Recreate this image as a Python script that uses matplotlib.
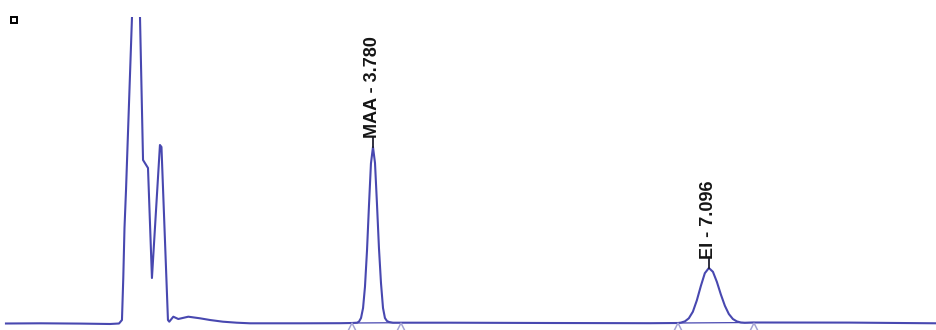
import numpy as np
import matplotlib
matplotlib.use("Agg")
import matplotlib.pyplot as plt

# detector trace, retention time in minutes / signal in arbitrary units
lead_t = [0.157, 0.500, 0.900, 1.184, 1.273]
lead_y = [-0.5, -0.3, -0.6, -1.0, -0.5]

void_t = [1.302, 1.315, 1.327, 1.342, 1.401, 1.450, 1.480, 1.510, 1.559, 1.598,
          1.677, 1.692, 1.756, 1.769, 1.809, 1.858, 1.957, 2.072,
          2.171, 2.299, 2.435, 2.566, 3.060, 3.454, 3.573, 3.603]
void_y = [3.0, 45.0, 95.0, 133.0, 306.0, 450.0, 306.0, 163.0, 155.0, 45.0,
          178.0, 176.0, 3.0, 1.3, 6.3, 4.0, 6.3, 4.7,
          3.0, 1.3, 0.3, -0.3, -0.3, -0.2, 0.0, 0.2]

maa_t = [3.623, 3.642, 3.662, 3.682, 3.701, 3.721, 3.741, 3.760, 3.780,
         3.800, 3.819, 3.839, 3.859, 3.879, 3.898, 3.918, 3.938, 3.977]
maa_y = [0.3, 1.4, 5.0, 14.9, 36.2, 72.4, 118.6, 159.5, 176.0,
         160.0, 120.0, 75.0, 40.0, 15.0, 5.0, 2.0, 1.0, 0.3]

mid_t = [4.057, 4.540, 5.527, 6.515, 6.791]
mid_y = [0.3, 0.3, 0.0, -0.2, 0.0]

ei_t = [6.820, 6.859, 6.898, 6.938, 6.977, 7.017, 7.056, 7.096,
        7.136, 7.175, 7.214, 7.254, 7.293, 7.333, 7.372, 7.412, 7.451]
ei_y = [0.4, 1.6, 4.7, 11.3, 22.6, 37.1, 49.8, 55.0,
        51.2, 41.1, 28.6, 17.2, 9.0, 4.0, 1.6, 0.5, 0.2]

tail_t = [7.541, 8.489, 9.348]
tail_y = [0.5, 0.4, -0.3]

# integrated peaks
peak_names = ["MAA", "EI"]
peak_rt = [3.780, 7.096]
peak_start = [3.573, 6.791]
peak_end = [4.057, 7.541]

time = np.array(lead_t + void_t + maa_t + mid_t + ei_t + tail_t)
signal = np.array(lead_y + void_y + maa_y + mid_y + ei_y + tail_y)

trace_color = "#4848b0"
marker_color = "#a4a4d4"

fig = plt.figure(figsize=(9.37, 3.30), dpi=100)
ax = fig.add_axes([0, 0, 1, 313 / 330])
ax.set_xlim(0.098, 9.348)
ax.set_ylim(-7, 306)
ax.axis("off")

ax.plot(time, signal, color=trace_color, lw=1.5, solid_joinstyle="round")

for name, rt, t0, t1 in zip(peak_names, peak_rt, peak_start, peak_end):
    y0 = np.interp(t0, time, signal)
    y1 = np.interp(t1, time, signal)
    ax.plot([t0, t1], [y0, y1], color=trace_color, lw=0.9)
    ax.plot([t0, t1], [-3.5, -3.5], ls="none", marker="^", ms=6,
            mfc="none", mec=marker_color, mew=1.1, clip_on=False)
    top = np.interp(rt, time, signal)
    ax.plot([rt, rt], [top, top + 9], color="#202030", lw=1.3)
    ax.annotate(f"{name} - {rt:.3f}", xy=(rt, top), xytext=(0, 6.5),
                textcoords="offset points", rotation=90, rotation_mode="anchor",
                ha="left", va="center", fontsize=13, fontweight="bold",
                family=["Liberation Sans", "DejaVu Sans"], color="#151515")

# small box in the corner of the trace window
fig.add_artist(plt.Line2D([14 / 937], [1 - 19.5 / 330], marker="s", ms=5,
                          mfc="white", mec="black", mew=1.4,
                          transform=fig.transFigure))

fig.savefig("out.png", dpi=100)
